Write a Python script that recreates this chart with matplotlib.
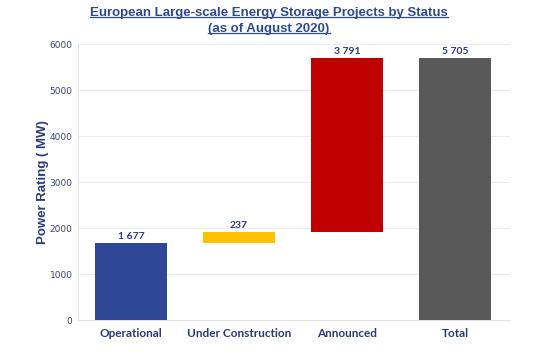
import matplotlib.pyplot as plt
from matplotlib.lines import Line2D

# Waterfall data (MW)
categories = ['Operational', 'Under Construction', 'Announced', 'Total']
steps = [1677, 237, 3791]
labels = ['1 677', '237', '3 791', '5 705']
colors = ['#2E4797', '#FFC000', '#C00000', '#595959']

total = sum(steps)
values = steps + [total]
bottoms = [0, steps[0], steps[0] + steps[1], 0]

navy = '#2B3A7C'

fig = plt.figure(figsize=(5.38, 3.58), dpi=100)
ax = fig.add_axes([0.145, 0.106, 0.803, 0.771])

x = range(len(categories))
ax.bar(x, values, bottom=bottoms, width=0.66, color=colors, zorder=3)

for i in x:
    ax.text(i, bottoms[i] + values[i] + 40, labels[i], ha='center', va='bottom',
            fontsize=7.5, fontweight='bold', color=navy, family='Lato')

ax.set_xlim(-0.49, 3.51)
ax.set_ylim(0, 6000)
ax.set_yticks(range(0, 6001, 1000))
ax.set_xticks(list(x))
ax.set_xticklabels(categories, fontsize=8.5, fontweight='bold', color=navy, family='Lato')
ax.tick_params(axis='y', labelsize=6.5, labelcolor='#3A4570', length=0, pad=4)
ax.tick_params(axis='x', length=0, pad=6)
ax.grid(axis='y', color='#EBEBEB', linewidth=0.7, zorder=0)
for s in ['top', 'right']:
    ax.spines[s].set_visible(False)
for s in ['left', 'bottom']:
    ax.spines[s].set_color('#E3E3E3')
    ax.spines[s].set_linewidth(0.8)

ax.set_ylabel('Power Rating ( MW)', fontsize=9.5, fontweight='bold', color=navy,
              family='Liberation Sans')
ax.yaxis.set_label_coords(-0.066, 0.5)

# Title with underline
t1 = fig.text(0.5, 0.965, 'European Large-scale Energy Storage Projects by Status',
              ha='center', va='center', fontsize=9.5, fontweight='bold',
              color='#2F4A8C', family='Liberation Sans')
t2 = fig.text(0.5, 0.92, '(as of August 2020)', ha='center', va='center',
              fontsize=9.5, fontweight='bold', color='#2F4A8C', family='Liberation Sans')

fig.canvas.draw()
r = fig.canvas.get_renderer()
inv = fig.transFigure.inverted()
for t in [t1, t2]:
    bb = t.get_window_extent(r)
    (x0, y0), (x1, y1) = inv.transform([[bb.x0, bb.y0], [bb.x1, bb.y1]])
    fig.add_artist(Line2D([x0, x1], [y0 + 0.004, y0 + 0.004], color='#2F4A8C',
                          linewidth=0.9, transform=fig.transFigure))

fig.savefig('out.png', dpi=100)
